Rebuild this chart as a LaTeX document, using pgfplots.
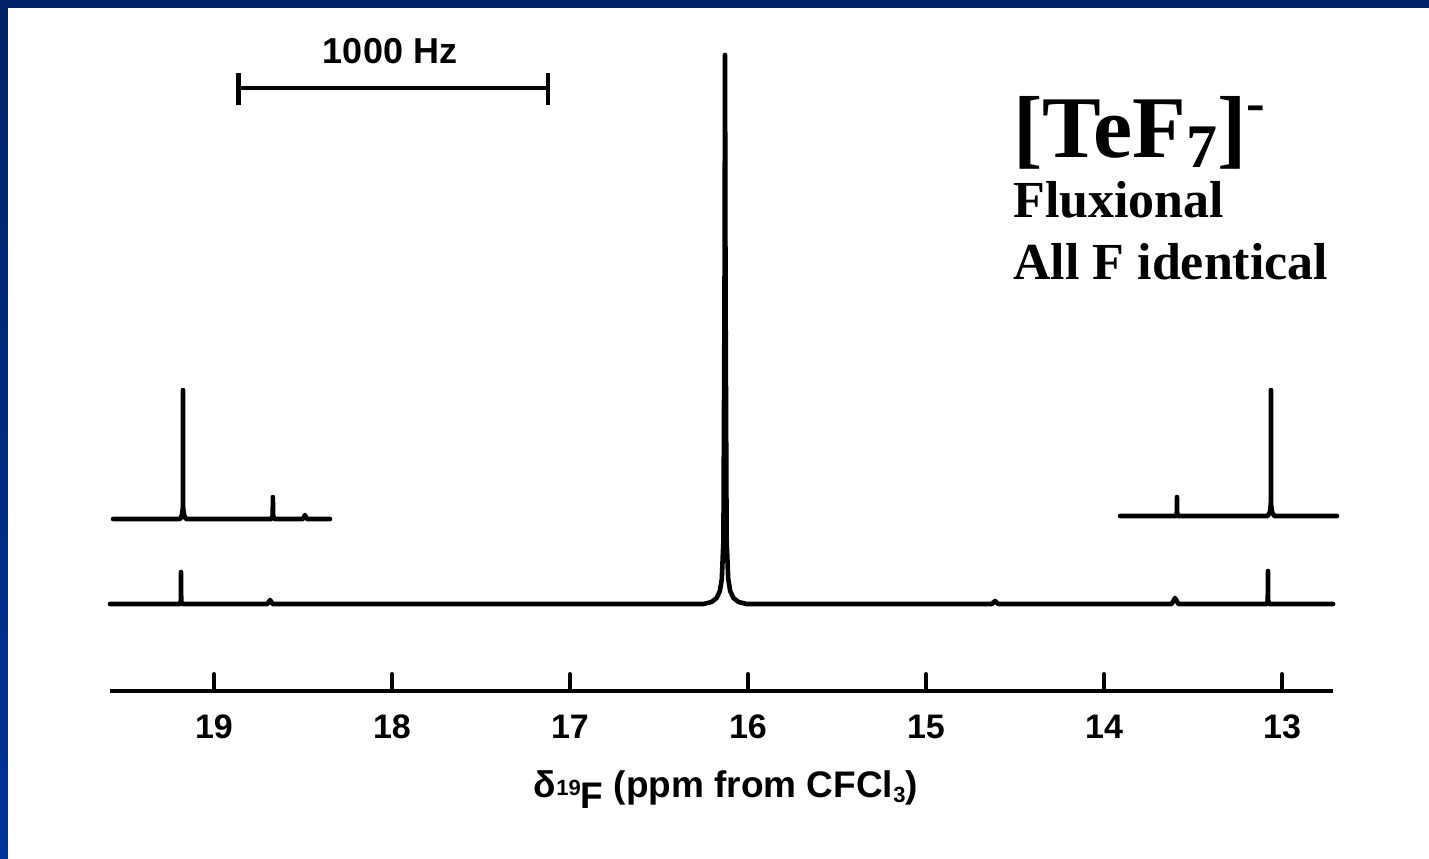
\documentclass[border=0pt]{standalone}
\usepackage{fontspec}
\usepackage{pgfplots}
\pgfplotsset{compat=1.18}
\newfontfamily\lsans{Liberation Sans}
\newfontfamily\lserif{Liberation Serif}
\definecolor{navy}{RGB}{0,34,102}
\definecolor{slideblue}{RGB}{0,51,153}
\begin{document}
\begin{tikzpicture}
\begin{axis}[
  width=714.5pt, height=429pt, scale only axis,
  xmin=12.1742, xmax=20.2022, x dir=reverse,
  ymin=0, ymax=858,
  hide axis, clip=false,
  trace/.style={black, line width=2.3pt, line join=round, line cap=round, mark=none},
]
% background and slide frame
\fill[white] (rel axis cs:0,0) rectangle (rel axis cs:1,1);
\shade[top color=navy, bottom color=slideblue] (rel axis cs:0,0) rectangle (axis cs:20.1572,858);
\fill[navy] (axis cs:20.2022,850) rectangle (axis cs:12.1742,858);

% main spectrum
\addplot[trace] coordinates {
(19.584,254) (19.190,254) (19.186,258) (19.185,286) (19.184,258) (19.180,254)
(18.700,254) (18.685,258) (18.670,254)
(16.250,254) (16.205,256) (16.176,260) (16.158,267) (16.147,279) (16.138,318) (16.132,558)
(16.129,803)
(16.126,558) (16.120,318) (16.111,279) (16.100,267) (16.082,260) (16.053,256) (16.008,254)
(14.630,254) (14.612,257) (14.594,254)
(13.620,254) (13.601,260) (13.582,254)
(13.084,254) (13.080,258) (13.079,287) (13.078,258) (13.074,254)
(12.713,254)
};

% left expanded inset
\addplot[trace] coordinates {
(19.567,339) (19.190,339) (19.180,343) (19.175,350) (19.174,468) (19.173,350) (19.168,343) (19.158,339)
(18.676,339) (18.670,343) (18.669,361) (18.668,343) (18.662,339)
(18.500,339) (18.489,343) (18.478,339) (18.348,339)
};

% right expanded inset
\addplot[trace] coordinates {
(13.910,342) (13.594,342) (13.591,346) (13.590,361) (13.589,346) (13.586,342)
(13.080,342) (13.068,346) (13.063,353) (13.062,468) (13.061,353) (13.056,346) (13.044,342)
(12.691,342)
};

% ppm scale line with ticks
\addplot[black, line width=2pt, line join=round, mark=none] coordinates {
(19.584,167) (19,167) (19,184) (19,167) (18,167) (18,184) (18,167)
(17,167) (17,184) (17,167) (16,167) (16,184) (16,167) (15,167) (15,184) (15,167)
(14,167) (14,184) (14,167) (13,167) (13,184) (13,167) (12.713,167)
};

% 1000 Hz scale bar
\addplot[black, line width=2pt, mark=none] coordinates {(18.860,770) (17.124,770)};
\addplot[black, line width=2.4pt, mark=none] coordinates {(18.860,753) (18.860,785)};
\addplot[black, line width=2.4pt, mark=none] coordinates {(17.124,753) (17.124,785)};

% labels
\node[anchor=base, font=\lsans\bfseries\fontsize{18}{18}\selectfont] at (axis cs:18.011,794) {1000 Hz};
\foreach \t in {19,18,17,16,15,14,13}{
  \edef\temp{\noexpand\node[anchor=base, font=\noexpand\lsans\noexpand\bfseries\noexpand\fontsize{17}{17}\noexpand\selectfont] at (axis cs:\t,120) {\t};}
  \temp
}
\node[anchor=base, font=\lsans\bfseries\fontsize{18.5}{18.5}\selectfont] at (axis cs:16.124,61)
  {δ\raisebox{0.05em}{\fontsize{11}{11}\selectfont 19}\raisebox{-0.3em}{F} (ppm from CFCl\raisebox{-0.15em}{\fontsize{11}{11}\selectfont 3})};

\node[anchor=base west, inner sep=0pt, font=\lserif\bfseries\fontsize{44}{44}\selectfont] at (axis cs:19-799/178,700)
  {[TeF\smash{\raisebox{-5pt}{\fontsize{31}{31}\selectfont 7}}]\raisebox{18pt}{\fontsize{28}{28}\selectfont -}};
\node[anchor=base west, inner sep=0pt, font=\lserif\bfseries\fontsize{26}{26}\selectfont] at (axis cs:19-799/178,640) {Fluxional};
\node[anchor=base west, inner sep=0pt, font=\lserif\bfseries\fontsize{26}{26}\selectfont] at (axis cs:19-799/178,578) {All F identical};
\end{axis}
\end{tikzpicture}
\end{document}
